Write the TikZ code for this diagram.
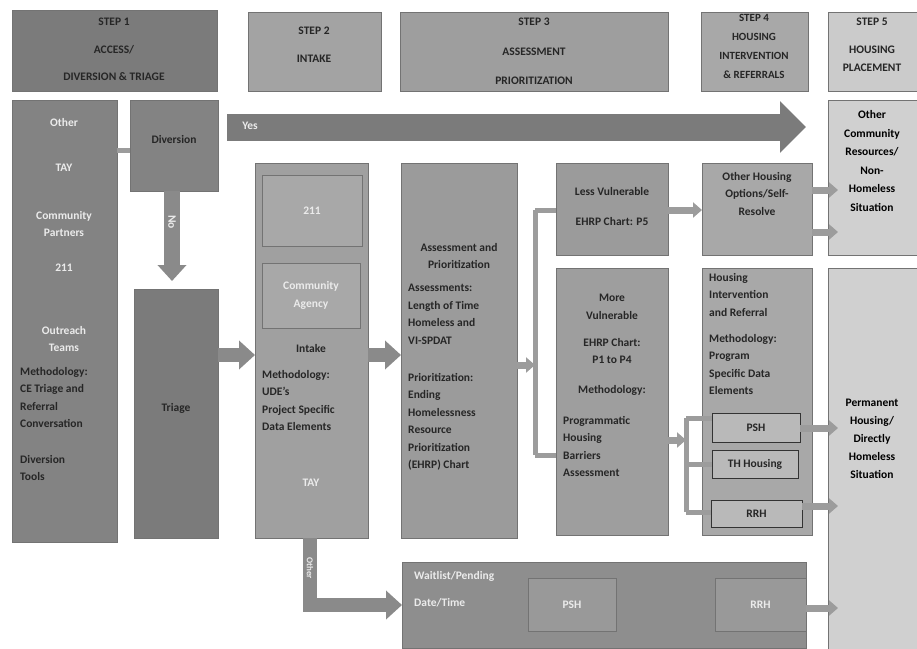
\documentclass[tikz,border=0pt]{standalone}
\usepackage{fontspec}
\setmainfont{Carlito}
\usetikzlibrary{arrows.meta}
\definecolor{cA}{HTML}{7B7B7B}
\definecolor{cB}{HTML}{A3A3A3}
\definecolor{cC}{HTML}{9E9E9E}
\definecolor{cD}{HTML}{A8A8A8}
\definecolor{cE}{HTML}{CBCBCB}
\definecolor{cL}{HTML}{838383}
\definecolor{cI}{HTML}{A0A0A0}
\definecolor{cS}{HTML}{9B9B9B}
\definecolor{cP}{HTML}{D0D0D0}
\definecolor{cR}{HTML}{8E8E8E}
\definecolor{cArr}{HTML}{8A8A8A}
\newcommand\mybox[6]{\node[box,fill=#6,minimum width={#4-#2},minimum height={#5-#3}] (#1) at (#2,#3) {};}
\begin{document}
\begin{tikzpicture}[x=1pt,y=-1pt,
  box/.style={draw=black!55, line width=0.8pt, anchor=north west, inner sep=0pt, outer sep=0pt},
  txt/.style={font=\bfseries\fontsize{11.5}{17.5}\selectfont, align=center, text=black!85, inner sep=0pt},
  ltxt/.style={txt, text=white!92!black},
  ltx/.style={txt, align=left, anchor=north west},
  lltx/.style={ltx, text=white!92!black},
  blk/.style={draw=cArr, line width=14pt, -{Triangle[width=28pt,length=16pt]}},
  bar/.style={draw=cArr!85, line width=5pt},
  sarr/.style={draw=cArr!85, line width=7pt, -{Triangle[width=15pt,length=9pt]}},
]
\useasboundingbox (0,0) rectangle (917,648);
\fill[white] (0,0) rectangle (917,648);

% headers
\mybox{h1}{12}{10}{217}{91}{cA}
\mybox{h2}{248}{12}{381}{91}{cB}
\mybox{h3}{400}{12}{668}{91}{cC}
\mybox{h4}{701}{12}{808}{91}{cD}
\mybox{h5}{828}{12}{917}{91}{cE}
\node[txt] (h1a) at (114,22) {STEP 1};
\node[txt] (h1b) at (114,50) {ACCESS/};
\node[txt] (h1c) at (114,77) {DIVERSION \& TRIAGE};
\node[txt] (h2a) at (314,31) {STEP 2};
\node[txt] (h2b) at (314,59) {INTAKE};
\node[txt] (h3a) at (534,22) {STEP 3};
\node[txt] (h3b) at (534,52) {ASSESSMENT};
\node[txt] (h3c) at (534,81) {PRIORITIZATION};
\node[txt, font=\bfseries\fontsize{11}{19}\selectfont, anchor=north] (h4t) at (754,14) {STEP 4\\HOUSING\\INTERVENTION\\\& REFERRALS};
\node[txt] (h5a) at (872,22) {STEP 5};
\node[txt] (h5b) at (872,50) {HOUSING};
\node[txt] (h5c) at (872,68) {PLACEMENT};

% step 1
\mybox{left}{12}{100}{117}{542}{cL}
\mybox{div}{130}{100}{218}{191}{cL}
\mybox{triage}{134}{289}{218}{538}{cA}
\node[ltxt] (l1) at (64,123) {Other};
\node[ltxt] (l2) at (64,168) {TAY};
\node[ltxt] (l3) at (64,224) {Community\\Partners};
\node[ltxt] (l4) at (64,268) {211};
\node[ltxt] (l5) at (64,339) {Outreach\\Teams};
\node[ltx] (l6) at (20,367) {Methodology:\\CE Triage and\\Referral\\Conversation};
\node[ltx] (l7) at (20,455) {Diversion\\Tools};
\node[txt] (divt) at (174,140) {Diversion};
\node[txt] (trit) at (176,408) {Triage};
\draw[bar] (left.east |- 0,150) -- (div.west |- 0,150);
\draw[blk, line width=16pt] (div.south -| 172,0) -- (172,281);
\node[ltxt, rotate=-90] (no) at (172,222) {No};

% big yes arrow
\coordinate (yesS) at (227,127);
\coordinate (yesE) at (806,127);
\draw[draw=cA, line width=27pt, -{Triangle[width=50pt,length=26pt]}] (yesS) -- (yesE);
\node[ltxt] (yes) at (250,126) {Yes};

% step 2 intake
\mybox{intake}{255}{163}{368}{538}{cI}
\mybox{in1}{262}{175}{362}{246}{cD}
\mybox{in2}{262}{263}{360}{328}{cD}
\node[ltxt] (in1t) at (in1.center) {211};
\node[ltxt] (in2t) at (in2.center) {Community\\Agency};
\node[txt] (intt) at (311,349) {Intake};
\node[ltx] (inm) at (262,370) {Methodology:\\UDE's\\Project Specific\\Data Elements};
\node[ltxt] (tay2) at (311,483) {TAY};
\draw[blk] (triage.east |- 0,355) -- (intake.west |- 0,355);

% step 3
\mybox{assess}{401}{163}{517}{538}{cS}
\node[txt] (as1) at (459,256) {Assessment and\\Prioritization};
\node[ltx] (as2) at (408,284) {Assessments:\\Length of Time\\Homeless and\\VI-SPDAT};
\node[ltx] (as3) at (408,373) {Prioritization:\\Ending\\Homelessness\\Resource\\Prioritization\\(EHRP) Chart};
\draw[blk] (intake.east |- 0,355) -- (assess.west |- 0,355);

\mybox{less}{556}{163}{668}{255}{cS}
\mybox{more}{556}{268}{668}{535}{cC}
\node[txt] (less1) at (612,192) {Less Vulnerable};
\node[txt] (less2) at (612,222) {EHRP Chart: P5};
\node[txt] (more1) at (612,307) {More\\Vulnerable};
\node[txt] (more2) at (612,351) {EHRP Chart:\\P1 to P4};
\node[txt] (more3) at (612,390) {Methodology:};
\node[ltx] (more4) at (563,416) {Programmatic\\Housing\\Barriers\\Assessment};
\coordinate (spl) at (535,365);
\draw[sarr] (assess.east |- 0,365) -- (spl);
\draw[bar] (535,210) -- (535,455);
\draw[bar] (535,210) -- (less.west |- 0,210);
\draw[bar] (535,455) -- (more.west |- 0,455);

% step 4
\mybox{oth}{702}{163}{812}{255}{cD}
\mybox{hint}{702}{268}{812}{535}{cD}
\node[txt] (otht) at (757,194) {Other Housing\\Options/Self-\\Resolve};
\node[ltx] (hint1) at (709,273) {Housing\\Intervention\\and Referral};
\node[ltx] (hint2) at (709,334) {Methodology:\\Program\\Specific Data\\Elements};
\node[box, draw=black!80, fill=cD!80!white, minimum width=88, minimum height=29] (psh) at (712,413) {};
\node[box, draw=black!80, fill=cD!80!white, minimum width=86, minimum height=28] (th) at (712,450) {};
\node[box, draw=black!80, fill=cD!80!white, minimum width=91, minimum height=27] (rrh) at (711,500) {};
\node[txt] (psht) at (psh.center) {PSH};
\node[txt] (tht) at (th.center) {TH Housing};
\node[txt] (rrht) at (rrh.center) {RRH};
\draw[sarr] (less.east |- 0,210) -- (oth.west |- 0,210);
\coordinate (brk) at (686,440);
\draw[sarr] (more.east |- 0,440) -- (brk);
\draw[bar] (686,418) -- (686,512);
\draw[bar] (686,418) -- (psh.west |- 0,418);
\draw[bar] (686,464) -- (th.west |- 0,464);
\draw[bar] (686,512) -- (rrh.west |- 0,512);

% step 5
\mybox{comm}{828}{100}{917}{255}{cP}
\mybox{perm}{828}{268}{917}{652}{cP}
\node[txt, text=black, font=\bfseries\fontsize{11.5}{18.5}\selectfont] (commt) at (872,161) {Other\\Community\\Resources/\\Non-\\Homeless\\Situation};
\node[txt, text=black, font=\bfseries\fontsize{11.5}{18}\selectfont] (permt) at (872,439) {Permanent\\Housing/\\Directly\\Homeless\\Situation};
\draw[sarr] (oth.east |- 0,190) -- ([xshift=10pt]comm.west |- 0,190);
\draw[sarr] (oth.east |- 0,232) -- ([xshift=10pt]comm.west |- 0,232);
\draw[sarr] (psh.east |- 0,428) -- ([xshift=10pt]perm.west |- 0,428);
\draw[sarr] (rrh.east |- 0,506) -- ([xshift=10pt]perm.west |- 0,506);

% bottom
\mybox{wait}{402}{562}{806}{648}{cR}
\node[box, draw=black!55, fill=cR!90!white, minimum width=88, minimum height=53] (wb1) at (528,578) {};
\node[box, draw=black!55, fill=cR!90!white, minimum width=91, minimum height=53] (wb2) at (715,578) {};
\node[lltx, anchor=west] (wt1) at (414,576) {Waitlist/Pending};
\node[lltx, anchor=west] (wt2) at (414,603) {Date/Time};
\node[ltxt] (wb1t) at (wb1.center) {PSH};
\node[ltxt] (wb2t) at (wb2.center) {RRH};
\coordinate (lcorner) at (310,605);
\draw[blk, line join=miter] (intake.south -| 310,0) -- (lcorner) -- (wait.west |- 0,605);
\node[ltxt, rotate=-90, font=\bfseries\fontsize{9}{10}\selectfont] (oth2) at (310,568) {Other};
\draw[sarr] (wait.east |- 0,608) -- ([xshift=10pt]perm.west |- 0,608);
\end{tikzpicture}
\end{document}
